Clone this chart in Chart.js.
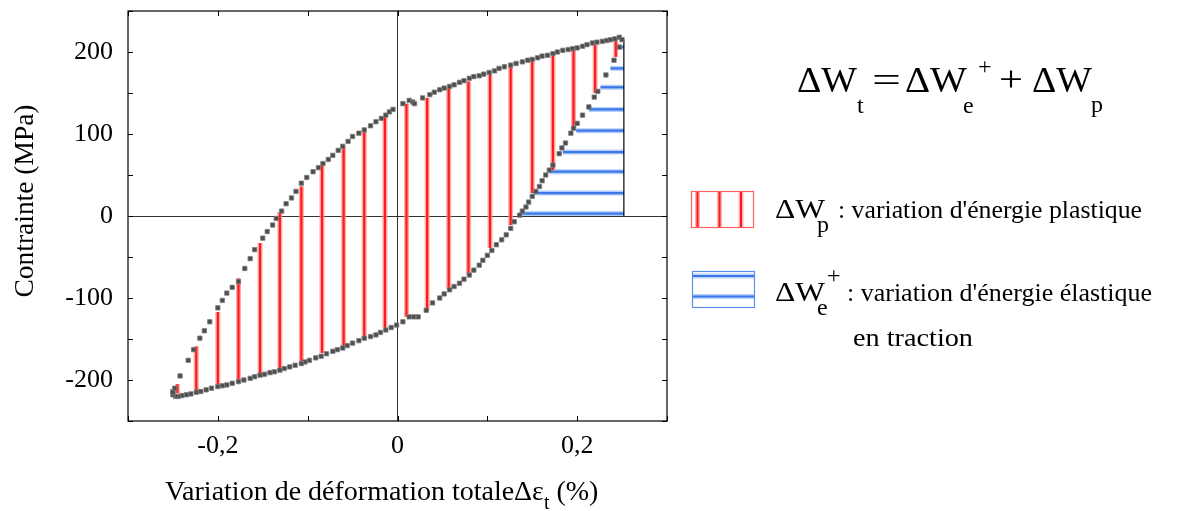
<!DOCTYPE html>
<html>
<head>
<meta charset="utf-8">
<script src="https://cdn.jsdelivr.net/npm/chart.js@4.4.1/dist/chart.umd.min.js"></script>
<style>
  html, body { margin: 0; padding: 0; background: #fff; }
  #wrap { position: relative; width: 1182px; height: 511px; }
  #c { position: absolute; left: 0; top: 0; }
  #ov { position: absolute; left: 0; top: 0; pointer-events: none; }
  #ov text { font-family: "Liberation Serif", "Times New Roman", serif; fill: #000; }
</style>
</head>
<body>
<div id="wrap">
  <canvas id="c" width="1182" height="511"></canvas>
  <svg id="ov" width="1182" height="511" xmlns="http://www.w3.org/2000/svg">
    <!-- Y axis title -->
    <text transform="translate(33,201) rotate(-90)" text-anchor="middle" font-size="28" textLength="193" lengthAdjust="spacingAndGlyphs">Contrainte (MPa)</text>
    <!-- X axis title -->
    <text x="165" y="500" font-size="28">Variation de déformation totaleΔε<tspan font-size="20" dy="9">t</tspan><tspan dy="-9"> (%)</tspan></text>
    <!-- Formula -->
    <text x="797" y="92" font-size="36" textLength="60" lengthAdjust="spacingAndGlyphs">ΔW</text>
    <text x="857" y="113" font-size="24">t</text>
    <text x="872" y="92" font-size="36" textLength="29" lengthAdjust="spacingAndGlyphs">=</text>
    <text x="905" y="92" font-size="36" textLength="62" lengthAdjust="spacingAndGlyphs">ΔW</text>
    <text x="963" y="113" font-size="24">e</text>
    <text x="978" y="74" font-size="24">+</text>
    <text x="999" y="91" font-size="36" textLength="24" lengthAdjust="spacingAndGlyphs">+</text>
    <text x="1032" y="92" font-size="36" textLength="60" lengthAdjust="spacingAndGlyphs">ΔW</text>
    <text x="1091" y="112" font-size="24">p</text>
    <!-- Legend boxes -->
    <rect x="691.5" y="191.5" width="62" height="36" fill="none" stroke="#ff6060" stroke-width="1.2"/>
    <line x1="697.5" y1="192" x2="697.5" y2="227" stroke="#ffb0b0" stroke-width="5"/>
    <line x1="697.5" y1="192" x2="697.5" y2="227" stroke="#ff1a1a" stroke-width="2"/>
    <line x1="719.5" y1="192" x2="719.5" y2="227" stroke="#ffb0b0" stroke-width="5"/>
    <line x1="719.5" y1="192" x2="719.5" y2="227" stroke="#ff1a1a" stroke-width="2"/>
    <line x1="741" y1="192" x2="741" y2="227" stroke="#ffb0b0" stroke-width="5"/>
    <line x1="741" y1="192" x2="741" y2="227" stroke="#ff1a1a" stroke-width="2"/>
    <rect x="692.5" y="271.5" width="62" height="36" fill="none" stroke="#5a8ff0" stroke-width="1.2"/>
    <line x1="693" y1="276" x2="754" y2="276" stroke="#b8d0f8" stroke-width="5"/>
    <line x1="693" y1="276" x2="754" y2="276" stroke="#3a78e8" stroke-width="2"/>
    <line x1="693" y1="296.5" x2="754" y2="296.5" stroke="#b8d0f8" stroke-width="5"/>
    <line x1="693" y1="296.5" x2="754" y2="296.5" stroke="#3a78e8" stroke-width="2"/>
    <!-- Legend texts -->
    <text x="775" y="218" font-size="28" textLength="50" lengthAdjust="spacingAndGlyphs">ΔW</text>
    <text x="817" y="232" font-size="24">p</text>
    <text x="838" y="218" font-size="26" textLength="304" lengthAdjust="spacingAndGlyphs">: variation d'énergie plastique</text>
    <text x="775" y="301" font-size="28" textLength="50" lengthAdjust="spacingAndGlyphs">ΔW</text>
    <text x="817" y="315" font-size="24">e</text>
    <text x="827" y="283" font-size="24">+</text>
    <text x="847" y="301" font-size="26" textLength="305" lengthAdjust="spacingAndGlyphs">: variation d'énergie élastique</text>
    <text x="853" y="346" font-size="26" textLength="120" lengthAdjust="spacingAndGlyphs">en traction</text>
  </svg>
</div>
<script>
// ---- Data ----
// Loading branch (lower-left to upper-right)
const upX = [-0.250,-0.248,-0.242,-0.233,-0.227,-0.220,-0.215,-0.209,-0.200,-0.195,-0.190,-0.184,-0.177,-0.170,-0.164,-0.159,-0.150,-0.145,-0.139,-0.135,-0.129,-0.124,-0.118,-0.113,-0.107,-0.101,-0.094,-0.088,-0.083,-0.077,-0.072,-0.066,-0.061,-0.055,-0.050,-0.043,-0.037,-0.030,-0.024,-0.018,-0.013,-0.009,-0.005,0.006,0.013,0.017,0.019,0.028,0.036,0.041,0.047,0.052,0.058,0.063,0.069,0.074,0.080,0.085,0.091,0.096,0.102,0.108,0.113,0.119,0.126,0.132,0.139,0.145,0.150,0.156,0.161,0.167,0.173,0.178,0.184,0.190,0.195,0.200,0.206,0.211,0.217,0.222,0.228,0.233,0.237,0.242,0.247,0.250];
const upY = [-214,-210,-195,-176,-163,-149,-140,-129,-112,-103,-94,-87,-80,-64,-52,-41,-27,-19,-11,-3,6,15,22,30,40,47,54,59,64,69,74,80,85,91,97,101,105,110,115,119,123,127,130,137,141,139,137,144,148,151,154,156,158,160,163,165,168,170,171,173,175,177,180,182,184,186,188,190,191,193,195,196,198,200,202,203,204,205,207,209,211,212,213,214,215,216,218,215];
// Unloading branch (upper-right to lower-left)
const dnX = [0.247,0.241,0.232,0.223,0.219,0.213,0.206,0.200,0.196,0.193,0.187,0.183,0.180,0.173,0.169,0.165,0.161,0.158,0.154,0.150,0.146,0.143,0.139,0.136,0.130,0.126,0.121,0.116,0.110,0.105,0.100,0.095,0.091,0.085,0.080,0.074,0.069,0.063,0.058,0.052,0.047,0.039,0.032,0.023,0.018,0.013,0.006,-0.001,-0.007,-0.013,-0.019,-0.024,-0.030,-0.037,-0.043,-0.050,-0.056,-0.061,-0.067,-0.072,-0.079,-0.085,-0.091,-0.098,-0.103,-0.107,-0.114,-0.120,-0.126,-0.131,-0.137,-0.142,-0.148,-0.153,-0.159,-0.164,-0.171,-0.177,-0.184,-0.190,-0.195,-0.200,-0.207,-0.213,-0.219,-0.224,-0.230,-0.235,-0.240,-0.244,-0.247,-0.250,-0.250];
const dnY = [206,190,172,152,145,133,123,113,107,101,89,83,76,62,56,50,43,36,30,24,17,11,6,1,-7,-15,-23,-29,-35,-42,-48,-54,-60,-66,-72,-77,-82,-86,-90,-95,-100,-106,-115,-123,-123,-123,-129,-133,-136,-139,-142,-145,-147,-149,-152,-155,-158,-161,-163,-165,-168,-171,-173,-176,-178,-180,-182,-184,-186,-188,-190,-191,-193,-194,-196,-198,-200,-202,-204,-206,-207,-208,-210,-212,-214,-215,-217,-218,-219,-220,-220,-218,-215];
// Plastic energy hatch (vertical red lines)
const redX = [-0.245,-0.224,-0.200,-0.177,-0.153,-0.131,-0.107,-0.084,-0.060,-0.037,-0.014,0.010,0.033,0.057,0.079,0.103,0.126,0.150,0.173,0.196,0.220,0.243];
const redLow = [-216,-214,-206,-200,-194,-186,-180,-167,-159,-149,-137,-123,-115,-90,-72,-39,-11,28,56,107,150,194];
const redHigh = [-205,-159,-117,-76,-33,5,36,62,85,103,121,137,144,156,164,173,182,189,195,202,209,214];
// Elastic energy hatch (horizontal blue lines)
const blueY = [206,180,157,130,104,78,54,28,3];
const blueStart = [0.247,0.237,0.226,0.213,0.199,0.184,0.169,0.152,0.136];
const blueEnd = [0.252,0.252,0.252,0.252,0.252,0.252,0.252,0.252,0.252];
// Right boundary of elastic area
const edgeX = [0.252, 0.252];
const edgeY = [0, 215];
// Tick labels
const xLabels = ['-0,2', '0', '0,2'];
const yLabels = [200, 100, 0, -100, -200];

// ---- Build datasets ----
const loopPts = upX.map((x, i) => ({x, y: upY[i]})).concat(dnX.map((x, i) => ({x, y: dnY[i]})));
const datasets = [];
datasets.push({
  data: loopPts, showLine: false, pointStyle: 'rect', pointRadius: 3.1,
  backgroundColor: '#4d4d4d', borderColor: '#808080', borderWidth: 0.8
});
datasets.push({
  data: edgeX.map((x, i) => ({x, y: edgeY[i]})), showLine: true, pointRadius: 0,
  borderColor: '#000', borderWidth: 1.2
});
redX.forEach((x, i) => {
  const d = [{x, y: redLow[i]}, {x, y: redHigh[i]}];
  datasets.push({data: d, showLine: true, pointRadius: 0, borderColor: '#ff1a1a', borderWidth: 2.2});
  datasets.push({data: d, showLine: true, pointRadius: 0, borderColor: 'rgba(255,140,140,0.75)', borderWidth: 5});
});
blueY.forEach((y, i) => {
  const d = [{x: blueStart[i], y}, {x: blueEnd[i], y}];
  datasets.push({data: d, showLine: true, pointRadius: 0, borderColor: '#3a78e8', borderWidth: 2.2});
  datasets.push({data: d, showLine: true, pointRadius: 0, borderColor: 'rgba(160,192,248,0.8)', borderWidth: 5});
});

const frame = {
  id: 'frame',
  afterDraw(chart) {
    const {ctx, chartArea: a, scales} = chart;
    ctx.save();
    ctx.strokeStyle = '#000';
    ctx.lineWidth = 1.2;
    ctx.strokeRect(a.left, a.top, a.right - a.left, a.bottom - a.top);
    ctx.lineWidth = 1;
    const L = 5;
    scales.x.ticks.forEach(t => {
      const px = Math.round(scales.x.getPixelForValue(t.value)) + 0.5;
      ctx.beginPath();
      ctx.moveTo(px, a.bottom); ctx.lineTo(px, a.bottom - L);
      ctx.moveTo(px, a.top); ctx.lineTo(px, a.top + L);
      ctx.stroke();
    });
    scales.y.ticks.forEach(t => {
      const py = Math.round(scales.y.getPixelForValue(t.value)) + 0.5;
      ctx.beginPath();
      ctx.moveTo(a.left, py); ctx.lineTo(a.left + L, py);
      ctx.moveTo(a.right, py); ctx.lineTo(a.right - L, py);
      ctx.stroke();
    });
    ctx.restore();
  }
};

function zeroPad(s) { s.paddingTop = 0; s.paddingBottom = 0; s.paddingLeft = 0; s.paddingRight = 0; }

const font = {family: '"Liberation Serif", "Times New Roman", serif', size: 26};
new Chart(document.getElementById('c'), {
  type: 'scatter',
  data: {datasets},
  options: {
    responsive: false, animation: false, devicePixelRatio: 1,
    layout: {padding: {left: 0, top: 11, right: 515, bottom: 0}},
    plugins: {legend: {display: false}, tooltip: {enabled: false}},
    scales: {
      x: {
        type: 'linear', min: -0.3, max: 0.3,
        afterFit(s) { s.height = 90; zeroPad(s); },
        border: {display: false},
        grid: {drawTicks: false, lineWidth: 1,
          color: c => (Math.abs(c.tick.value) < 1e-9 ? '#333' : 'rgba(0,0,0,0)')},
        ticks: {stepSize: 0.1, padding: 10, color: '#000', font, maxRotation: 0, autoSkip: false,
          callback: v => {
            const k = Math.round(v * 10);
            if (k === -2) return xLabels[0];
            if (k === 0) return xLabels[1];
            if (k === 2) return xLabels[2];
            return '';
          }}
      },
      y: {
        type: 'linear', min: -250, max: 250,
        afterFit(s) { s.width = 128; zeroPad(s); },
        border: {display: false},
        grid: {drawTicks: false, lineWidth: 1,
          color: c => (Math.abs(c.tick.value) < 1e-9 ? '#333' : 'rgba(0,0,0,0)')},
        ticks: {stepSize: 50, padding: 15, color: '#000', font, autoSkip: false,
          callback: v => (yLabels.includes(Math.round(v)) ? String(Math.round(v)) : '')}
      }
    }
  },
  plugins: [frame]
});
</script>
</body>
</html>
